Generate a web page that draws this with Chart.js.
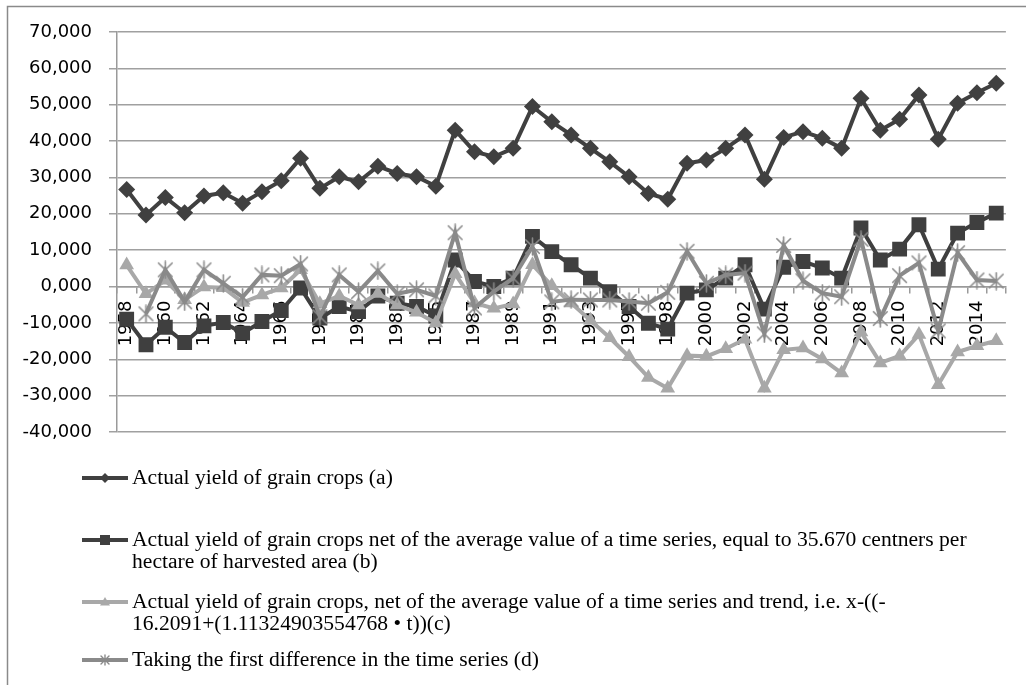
<!DOCTYPE html>
<html>
<head>
<meta charset="utf-8">
<script src="https://cdn.jsdelivr.net/npm/chart.js@4.4.1/dist/chart.umd.min.js"></script>
<style>
  html, body { margin: 0; padding: 0; background: #fff; }
  #wrap { position: relative; width: 1026px; height: 685px; }
</style>
</head>
<body>
<div id="wrap"><canvas id="grainChart" width="1026" height="685"></canvas></div>
<script>
// Categories (every other one is labelled on the axis)
const years = ['1958','1959','1960','1961','1962','1963','1964','1965','1966','1970',
  '1975','1980','1981','1982','1983','1984','1985','1986','1987','1988',
  '1989','1990','1991','1992','1993','1994','1995','1997','1998','1999',
  '2000','2001','2002','2003','2004','2005','2006','2007','2008','2009',
  '2010','2011','2012','2013','2014','2015'];

// (a) actual yield
const actualYield = [26.7, 19.7, 24.5, 20.3, 24.9, 25.8, 22.9, 26.1, 29.1, 35.3,
  27.0, 30.2, 28.8, 33.1, 31.1, 30.2, 27.6, 43.0, 37.1, 35.7,
  38.0, 49.5, 45.3, 41.7, 38.0, 34.3, 30.2, 25.6, 24.0, 33.9,
  34.8, 38.0, 41.7, 29.5, 41.0, 42.6, 40.8, 38.0, 51.8, 43.0,
  46.0, 52.7, 40.5, 50.4, 53.3, 55.9];

// (b) net of the average
const netOfMean = [-9.0, -16.0, -11.2, -15.4, -10.8, -9.9, -12.8, -9.6, -6.6, -0.4,
  -8.7, -5.5, -6.9, -2.6, -4.6, -5.5, -8.1, 7.3, 1.4, 0.0,
  2.3, 13.8, 9.6, 6.0, 2.3, -1.4, -5.5, -10.1, -11.7, -1.8,
  -0.9, 2.3, 6.0, -6.2, 5.3, 6.9, 5.1, 2.3, 16.1, 7.3,
  10.3, 17.0, 4.8, 14.7, 17.6, 20.2];

// (c) net of the average and trend
const netOfTrend = [5.9, -2.0, 1.7, -3.6, -0.1, -0.3, -4.4, -2.3, -0.4, 4.6,
  -4.7, -2.6, -5.1, -1.9, -5.1, -7.1, -10.0, 3.5, -4.5, -6.0,
  -4.8, 6.0, 0.2, -4.5, -9.3, -14.1, -19.3, -25.0, -28.0, -19.0,
  -19.2, -17.1, -14.5, -28.0, -17.4, -16.9, -19.9, -23.8, -12.5, -21.0,
  -19.1, -13.2, -27.0, -18.0, -16.3, -14.9];

// (d) first difference
const firstDiff = [null, -7.5, 4.6, -4.2, 4.6, 0.9, -2.9, 3.2, 3.0, 6.2,
  -8.3, 3.2, -1.4, 4.3, -2.0, -0.9, -2.6, 14.8, -5.9, -1.4,
  2.3, 11.0, -4.2, -3.6, -3.7, -3.7, -4.1, -4.6, -1.6, 9.7,
  0.9, 3.2, 3.7, -13.0, 11.3, 1.6, -1.8, -2.8, 13.0, -8.8,
  3.0, 6.5, -12.2, 9.3, 1.8, 1.5];

const yTicks = { min: -40, max: 70, step: 10 };

const seriesLabels = [
  ['Actual yield of grain crops (a)'],
  ['Actual yield of grain crops net of the average value of a time series, equal to 35.670 centners per',
   'hectare of harvested area (b)'],
  ['Actual yield of grain crops, net of the average value of a time series and trend, i.e. x-((-',
   '16.2091+(1.11324903554768 \u2022 t))(c)'],
  ['Taking the first difference in the time series (d)']
];

const colA = '#404040', colB = '#3f3f3f', colC = '#a8a8a8', colD = '#8a8a8a';

// asterisk marker (x with a vertical bar)
function makeStar(size, color, lw) {
  const c = document.createElement('canvas');
  c.width = size; c.height = size;
  const g = c.getContext('2d');
  const m = size / 2, r = size / 2 - 1;
  g.strokeStyle = color; g.lineWidth = lw; g.lineCap = 'round';
  g.beginPath();
  g.moveTo(m - r * 0.8, m - r * 0.8); g.lineTo(m + r * 0.8, m + r * 0.8);
  g.moveTo(m + r * 0.8, m - r * 0.8); g.lineTo(m - r * 0.8, m + r * 0.8);
  g.moveTo(m, m - r); g.lineTo(m, m + r);
  g.stroke();
  return c;
}
const starImg = makeStar(19, colD, 1.6);
const starSmall = makeStar(12, colD, 1.4);

function drawMarker(ctx, style, x, y, r, color) {
  ctx.fillStyle = color;
  ctx.beginPath();
  if (style === 'rectRot') {
    ctx.moveTo(x, y - r); ctx.lineTo(x + r, y); ctx.lineTo(x, y + r); ctx.lineTo(x - r, y);
  } else if (style === 'rect') {
    ctx.rect(x - r, y - r, 2 * r, 2 * r);
  } else if (style === 'triangle') {
    ctx.moveTo(x, y - r); ctx.lineTo(x + r, y + r * 0.7); ctx.lineTo(x - r, y + r * 0.7);
  }
  ctx.closePath();
  ctx.fill();
}

const framePlugin = {
  id: 'frame',
  beforeDraw(chart) {
    const ctx = chart.ctx;
    ctx.save();
    ctx.fillStyle = '#fff';
    ctx.fillRect(0, 0, chart.width, chart.height);
    ctx.strokeStyle = '#8a8a8a';
    ctx.lineWidth = 1.5;
    ctx.beginPath();
    ctx.moveTo(7.5, chart.height); ctx.lineTo(7.5, 6.5); ctx.lineTo(chart.width, 6.5);
    ctx.stroke();
    ctx.restore();
  }
};

// legend under the plot, wrapped like the original
const legendPlugin = {
  id: 'sideLegend',
  afterDraw(chart, args, opts) {
    const ctx = chart.ctx;
    ctx.save();
    ctx.font = opts.font;
    ctx.textBaseline = 'middle';
    chart.data.datasets.forEach((ds, i) => {
      const y = opts.rows[i];
      ctx.strokeStyle = ds.borderColor;
      ctx.lineWidth = 4;
      ctx.beginPath();
      ctx.moveTo(opts.x0, y); ctx.lineTo(opts.x0 + opts.sample, y);
      ctx.stroke();
      const mx = opts.x0 + opts.sample / 2;
      if (ds.pointStyle === starImg) ctx.drawImage(starSmall, mx - 6, y - 6);
      else drawMarker(ctx, ds.pointStyle, mx, y, 5, ds.borderColor);
      ctx.fillStyle = '#000';
      seriesLabels[i].forEach((line, k) => {
        ctx.fillText(line, opts.x0 + opts.sample + 4, y + k * opts.lineHeight);
      });
    });
    ctx.restore();
  }
};

const axisFont = { family: 'DejaVu Sans', size: 18 };

new Chart(document.getElementById('grainChart'), {
  type: 'line',
  data: {
    labels: years,
    datasets: [
      { label: seriesLabels[0].join(' '), data: actualYield, borderColor: colA, backgroundColor: colA,
        borderWidth: 4, pointStyle: 'rectRot', pointRadius: 8.5, pointBorderWidth: 0, order: 4 },
      { label: seriesLabels[1].join(' '), data: netOfMean, borderColor: colB, backgroundColor: colB,
        borderWidth: 4, pointStyle: 'rect', pointRadius: 10.5, pointBorderWidth: 0, order: 3 },
      { label: seriesLabels[2].join(' '), data: netOfTrend, borderColor: colC, backgroundColor: colC,
        borderWidth: 4, pointStyle: 'triangle', pointRadius: 8.5, pointBorderWidth: 0, order: 2 },
      { label: seriesLabels[3].join(' '), data: firstDiff, borderColor: colD, backgroundColor: colD,
        borderWidth: 4, pointStyle: starImg, pointRadius: 9, order: 1 }
    ]
  },
  options: {
    responsive: false,
    animation: false,
    layout: { padding: { left: 22, top: 32, right: 15, bottom: 253 } },
    plugins: {
      legend: { display: false },
      tooltip: { enabled: false },
      sideLegend: { font: '21.6px "Liberation Serif"', rows: [478, 540, 602, 660], x0: 82, sample: 46, lineHeight: 22 }
    },
    scales: {
      x: {
        position: { y: 0 },
        offset: true,
        grid: { drawOnChartArea: false, offset: true, tickLength: 6, color: '#9a9a9a', lineWidth: 1.5 },
        border: { color: '#9a9a9a', width: 1.5 },
        ticks: {
          autoSkip: false, minRotation: 90, maxRotation: 90, padding: 8,
          color: '#000', font: axisFont,
          callback: (v, i) => i % 2 === 0 ? years[i] : ''
        }
      },
      y: {
        min: yTicks.min, max: yTicks.max,
        afterFit: scale => { scale.width = 95; },
        grid: { color: '#a0a0a0', lineWidth: 1.5, tickLength: 8 },
        border: { color: '#9a9a9a', width: 1.5 },
        ticks: {
          stepSize: yTicks.step, padding: 17, color: '#000', font: axisFont,
          callback: v => v.toFixed(3).replace('.', ',')
        }
      }
    }
  },
  plugins: [framePlugin, legendPlugin]
});
</script>
</body>
</html>
